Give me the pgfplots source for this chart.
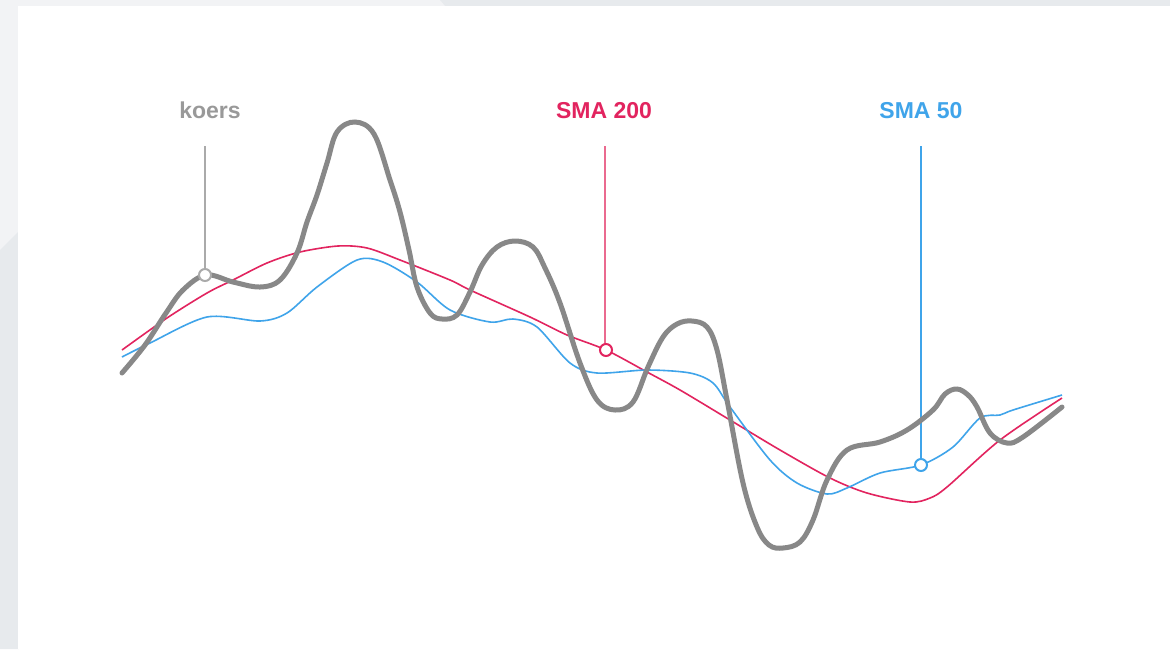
\documentclass[border=0pt]{standalone}
\usepackage{pgfplots}
\pgfplotsset{compat=1.18}
\usepackage{fontspec}
\setmainfont{Liberation Sans}
\definecolor{bgA}{HTML}{F2F3F5}
\definecolor{bgB}{HTML}{E7EAED}
\definecolor{koers}{HTML}{888888}
\definecolor{koerslbl}{HTML}{999999}
\definecolor{koerslead}{HTML}{AAAAAA}
\definecolor{smared}{HTML}{E2245F}
\definecolor{smaredlead}{HTML}{EA6A8F}
\definecolor{smablue}{HTML}{3FA4EA}
\begin{document}
\begin{tikzpicture}
\begin{axis}[scale only axis, width=585pt, height=324.5pt,
  xmin=0, xmax=1170, ymin=0, ymax=649, y dir=reverse,
  hide axis, clip=false]
% background
\addplot[fill=bgA, draw=none] coordinates {(0,0)(1170,0)(1170,649)(0,649)} -- cycle;
\addplot[fill=bgB, draw=none] coordinates {(440,0)(1170,0)(1170,7)(446,7)} -- cycle;
\addplot[fill=bgB, draw=none] coordinates {(0,250)(19,231)(19,649)(0,649)} -- cycle;
\addplot[fill=white, draw=none] coordinates {(18,6)(1170,6)(1170,649)(18,649)} -- cycle;
% leader lines
\addplot[koerslead, line width=0.75pt] coordinates {(205,146)(205,270)};
\addplot[smaredlead, line width=0.75pt] coordinates {(605,146)(605,345)};
\addplot[smablue, line width=0.75pt] coordinates {(921,146)(921,460)};
% SMA 200
\addplot[smared, line width=0.8pt, smooth, tension=0.5] coordinates {
(122,350)(167,318)(207,293)(233,280)(267,263)(300,252)(338,246)(367,248)
(400,260)(450,280)(470,290)(530,317)(567,335)(606,350)(647,372)(680,390)
(730,420)(780,450)(830,478)(867,493)(910,502)(930,498)(947,487)(1000,440)(1062,398)};
% SMA 50
\addplot[smablue, line width=0.8pt, smooth, tension=0.5] coordinates {
(122,357)(150,343)(207,317)(260,321)(287,313)(317,287)(357,260)(383,262)
(417,282)(450,310)(490,322)(513,319)(537,327)(570,363)(597,373)(647,370)
(690,373)(713,383)(730,407)(770,460)(797,483)(827,494)(847,488)(880,473)
(921,465)(953,447)(980,418)(1000,415)(1013,410)(1062,395)};
% koers
\addplot[koers, line width=2.5pt, line cap=round, smooth, tension=0.6] coordinates {
(122,373)(145,345)(166,313)(183,290)(206,275)(233,282)(260,287)(280,280)(297,253)
(307,222)(317,195)(327,163)(337,132)(355,122)(374,134)(390,180)(400,212)(409,250)(417,287)(430,313)(442,319)(457,315)(470,292)
(482,265)(497,247)(515,241)(533,247)(545,268)(560,303)(580,363)(597,400)(615,410)(633,402)(648,367)(663,337)
(677,324)(692,321)(707,327)(717,350)(727,400)(743,483)(757,527)(769,545)(783,548)(800,542)(813,520)(827,480)
(847,450)(880,442)(907,430)(933,410)(945,394)(957,389)(968,395)(977,407)(990,433)(1007,443)
(1023,437)(1062,407)};
% markers
\addplot[only marks, mark=*, mark size=3pt, mark options={draw=koerslead, fill=white, line width=1pt}] coordinates {(205,275)};
\addplot[only marks, mark=*, mark size=3pt, mark options={draw=smared, fill=white, line width=1pt}] coordinates {(606,350)};
\addplot[only marks, mark=*, mark size=3pt, mark options={draw=smablue, fill=white, line width=1pt}] coordinates {(921,465)};
% labels
\node[font=\fontsize{11.5}{12}\selectfont\bfseries, text=koerslbl, anchor=base] at (axis cs:210,118) {koers};
\node[font=\fontsize{11.5}{12}\selectfont\bfseries, text=smared, anchor=base] at (axis cs:604,118) {SMA 200};
\node[font=\fontsize{11.5}{12}\selectfont\bfseries, text=smablue, anchor=base] at (axis cs:921,118) {SMA 50};
\end{axis}
\end{tikzpicture}
\end{document}
